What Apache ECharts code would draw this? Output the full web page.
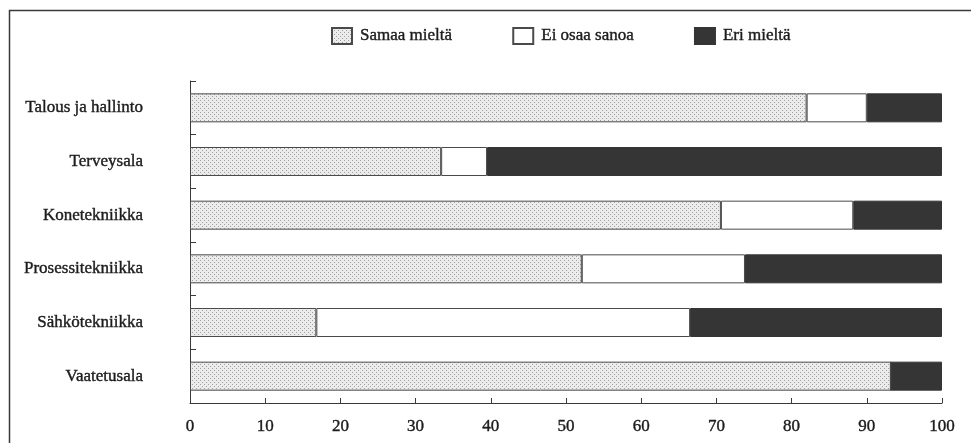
<!DOCTYPE html>
<html>
<head>
<meta charset="utf-8">
<script src="https://cdn.jsdelivr.net/npm/echarts@6/dist/echarts.min.js"></script>
<style>
html,body{margin:0;padding:0;background:#fff;}
#chart{width:971px;height:443px;}
</style>
</head>
<body>
<div id="chart"></div>
<script>
const categories = ['Talous ja hallinto','Terveysala','Konetekniikka','Prosessitekniikka','Sähkötekniikka','Vaatetusala'];
const samaaMielta = [82.0, 33.4, 70.6, 52.1, 16.8, 93.2];
const eiOsaaSanoa = [8.0, 6.1, 17.6, 21.7, 49.7, 0];
const eriMielta = [10.0, 60.5, 11.8, 26.2, 33.5, 6.8];
const seriesNames = ['Samaa mieltä','Ei osaa sanoa','Eri mieltä'];
const xTicks = [0,10,20,30,40,50,60,70,80,90,100];

function makePattern(){
  const c = document.createElement('canvas');
  c.width = 4; c.height = 4;
  const g = c.getContext('2d');
  g.fillStyle = '#ececec';
  g.fillRect(0,0,4,4);
  g.fillStyle = '#a0a0a0';
  g.fillRect(0,0,1,1);
  g.fillRect(2,2,1,1);
  return c;
}
const dotted = {image: makePattern(), repeat: 'repeat'};
const font = 'Liberation Serif';
const txt = '#1c1c1c';
const ink = {color: txt, textBorderColor: txt, textBorderWidth: 0.4};

const chart = echarts.init(document.getElementById('chart'));
chart.setOption({
  animation: false,
  backgroundColor: '#fff',
  textStyle: {fontFamily: font},
  graphic: [{
    type: 'rect', left: 7, top: 8,
    shape: {width: 1000, height: 500},
    style: {fill: 'none', stroke: '#3a3a3a', lineWidth: 1.5},
    silent: true
  }],
  legend: {
    left: 326, top: 22,
    itemWidth: 20, itemHeight: 16, itemGap: 60,
    icon: 'rect',
    data: seriesNames,
    textStyle: Object.assign({fontFamily: font, fontSize: 17, padding: [0,0,0,3]}, ink)
  },
  grid: {left: 190, right: 29, top: 81, bottom: 40, containLabel: false},
  xAxis: {
    type: 'value', min: 0, max: 100, interval: 10,
    axisLine: {show: true, lineStyle: {color: '#3a3a3a', width: 1}},
    axisTick: {show: true, inside: true, length: 5, lineStyle: {color: '#3a3a3a'}},
    splitLine: {show: false},
    axisLabel: Object.assign({
      margin: 15, fontFamily: font, fontSize: 17,
      formatter: v => xTicks.includes(v) ? String(v) : ''
    }, ink)
  },
  yAxis: [{
    type: 'category', data: categories, inverse: true, position: 'left',
    axisLine: {show: true, lineStyle: {color: '#3a3a3a', width: 1}},
    axisTick: {show: true, inside: true, length: 6, alignWithLabel: false, lineStyle: {color: '#3a3a3a'}},
    axisLabel: Object.assign({margin: 47, fontFamily: font, fontSize: 17}, ink)
  },{
    type: 'category', data: categories, inverse: true, position: 'left', offset: 0,
    axisLine: {show: false},
    axisTick: {show: true, inside: true, length: 3, alignWithLabel: true, lineStyle: {color: '#3a3a3a'}},
    axisLabel: {show: false}
  }],
  series: [
    {name: seriesNames[0], type: 'bar', stack: 'all', yAxisIndex: 0, barWidth: 29, data: samaaMielta,
     itemStyle: {color: dotted, borderColor: '#4a4a4a', borderWidth: 1}},
    {name: seriesNames[1], type: 'bar', stack: 'all', yAxisIndex: 0, barWidth: 29, data: eiOsaaSanoa,
     itemStyle: {color: '#ffffff', borderColor: '#4a4a4a', borderWidth: 1}},
    {name: seriesNames[2], type: 'bar', stack: 'all', yAxisIndex: 0, barWidth: 29, data: eriMielta,
     itemStyle: {color: '#353535', borderColor: '#353535', borderWidth: 1}}
  ]
});
</script>
</body>
</html>
